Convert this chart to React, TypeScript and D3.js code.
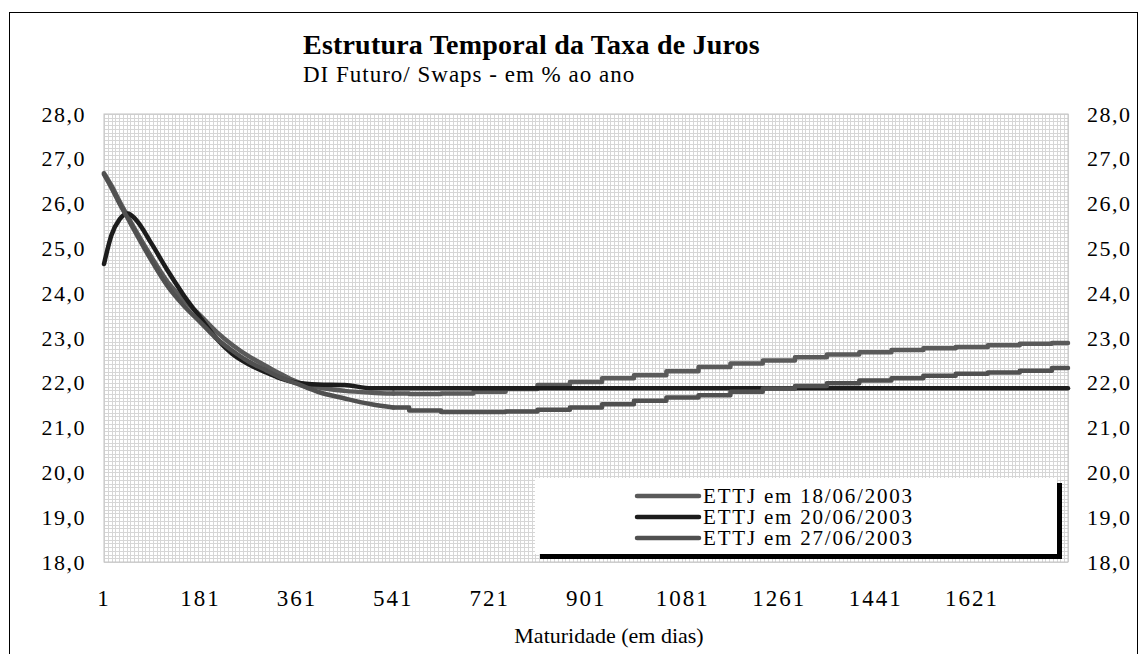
import React from "react";
import * as d3 from "d3";

const maturities = [
  1, 15, 30, 45, 60, 90, 120, 150, 181, 210, 240, 270, 300, 330, 361, 400, 450,
  500, 541, 600, 660, 721, 780, 840, 901, 960, 1020, 1081, 1140, 1200, 1261,
  1320, 1380, 1441, 1500, 1560, 1621, 1680, 1740, 1800,
];

const ettj1806 = [
  26.68, 26.4, 26.05, 25.72, 25.4, 24.8, 24.25, 23.85, 23.5, 23.15, 22.85,
  22.6, 22.4, 22.2, 22.02, 21.9, 21.82, 21.78, 21.76, 21.75, 21.76, 21.8,
  21.86, 21.95, 22.02, 22.1, 22.17, 22.26, 22.35, 22.43, 22.5, 22.57, 22.63,
  22.68, 22.73, 22.77, 22.8, 22.84, 22.87, 22.89,
];

const ettj2006 = [
  24.65, 25.3, 25.65, 25.78, 25.65, 25.1, 24.5, 23.95, 23.45, 23.0, 22.65,
  22.42, 22.25, 22.1, 22.0, 21.96, 21.95, 21.88, 21.88, 21.88, 21.88, 21.88,
  21.88, 21.88, 21.88, 21.88, 21.88, 21.88, 21.88, 21.88, 21.88, 21.88, 21.88,
  21.88, 21.88, 21.88, 21.88, 21.88, 21.88, 21.88,
];

const ettj2706 = [
  26.65, 26.35, 26.0, 25.68, 25.35, 24.72, 24.15, 23.72, 23.35, 23.0, 22.72,
  22.48, 22.3, 22.12, 21.98, 21.8, 21.65, 21.52, 21.45, 21.38, 21.35, 21.35,
  21.36, 21.4, 21.45, 21.52, 21.6, 21.67, 21.72, 21.8, 21.87, 21.93, 21.99,
  22.05, 22.1, 22.16, 22.2, 22.23, 22.27, 22.33,
];

const seriesNames = ["ETTJ em 18/06/2003", "ETTJ em 20/06/2003", "ETTJ em 27/06/2003"];
const xTickLabels = [1, 181, 361, 541, 721, 901, 1081, 1261, 1441, 1621];
const yTickLabels = [18, 19, 20, 21, 22, 23, 24, 25, 26, 27, 28];

const W = 1144;
const H = 654;
const plot = { left: 104, right: 1068, top: 114, bottom: 562 };
const font = "'Liberation Serif', 'Times New Roman', 'DejaVu Serif', serif";
const colors = ["#5a5a5a", "#1c1c1c", "#505050"];
const splitDay = 541; // past this the rounded daily rates show as small stairs

const ptBR = d3.formatLocale({ decimal: ",", thousands: ".", grouping: [3], currency: ["R$", ""] });
const fmt = ptBR.format(".1f");

export default function App() {
  const x = d3.scaleLinear().domain([1, 1800]).range([plot.left, plot.right]);
  const y = d3.scaleLinear().domain([18, 28]).range([plot.bottom, plot.top]);

  const smooth = d3
    .line<[number, number]>()
    .x((d) => x(d[0]))
    .y((d) => y(d[1]))
    .curve(d3.curveMonotoneX);
  const stairs = d3
    .line<[number, number]>()
    .x((d) => x(d[0]))
    .y((d) => y(d[1]))
    .curve(d3.curveStep);

  const series = [ettj1806, ettj2006, ettj2706].map((vals) =>
    maturities.map((m, i) => [m, vals[i]] as [number, number])
  );

  // fine grid like Excel's minor gridlines
  const vGrid = d3.range(1, 1801, 7).map((d) => Math.round(x(d)) + 0.5);
  const hGrid = d3.range(0, 121).map((i) => Math.round(y(18 + i / 12)) + 0.5);

  const legend = { x: 535, y: 478, w: 522, h: 76 };
  const txt = { fontFamily: font };

  return (
    <svg
      width={W}
      height={H}
      style={{ position: "absolute", left: 0, top: 0, background: "#fff", fontFamily: font }}
    >
      <rect x={9.5} y={12.5} width={1128} height={700} fill="#fff" stroke="#000" />

      <text x={303} y={54} style={txt} fontSize={28} fontWeight="bold" letterSpacing={0.2}>
        Estrutura Temporal da Taxa de Juros
      </text>
      <text x={303} y={82} style={txt} fontSize={23} letterSpacing={1}>
        DI Futuro/ Swaps - em % ao ano
      </text>

      <g stroke="#d6d6d6" strokeWidth={1}>
        {vGrid.map((gx, i) => (
          <line key={"v" + i} x1={gx} x2={gx} y1={plot.top} y2={plot.bottom} />
        ))}
        {hGrid.map((gy, i) => (
          <line key={"h" + i} x1={plot.left} x2={plot.right} y1={gy} y2={gy} />
        ))}
      </g>
      <rect
        x={plot.left}
        y={plot.top}
        width={plot.right - plot.left}
        height={plot.bottom - plot.top}
        fill="none"
        stroke="#c4c4c4"
      />

      {yTickLabels.map((v) => (
        <g key={v} fontSize={22} letterSpacing={1.5}>
          <text x={86} y={y(v)} style={txt} textAnchor="end" dominantBaseline="central">
            {fmt(v)}
          </text>
          <text x={1087} y={y(v)} style={txt} dominantBaseline="central">
            {fmt(v)}
          </text>
        </g>
      ))}

      {xTickLabels.map((d) => (
        <text
          key={d}
          x={x(d)}
          y={598}
          style={txt}
          fontSize={23}
          letterSpacing={2}
          textAnchor="middle"
          dominantBaseline="central"
        >
          {d}
        </text>
      ))}
      <text x={609} y={635} style={txt} fontSize={22} textAnchor="middle" dominantBaseline="central">
        Maturidade (em dias)
      </text>

      {series.map((s, i) => {
        const head = s.filter((p) => p[0] <= splitDay);
        const tail = s.filter((p) => p[0] >= splitDay);
        return (
          <g
            key={i}
            fill="none"
            stroke={colors[i]}
            strokeWidth={4.5}
            strokeLinecap="round"
            strokeLinejoin="round"
          >
            <path d={smooth(head) ?? ""} />
            <path d={stairs(tail) ?? ""} />
          </g>
        );
      })}

      <g>
        <rect x={legend.x + 5} y={legend.y + 5} width={legend.w} height={legend.h} fill="#000" />
        <rect x={legend.x} y={legend.y} width={legend.w} height={legend.h} fill="#fff" />
        {seriesNames.map((name, i) => {
          const ry = 496 + i * 21;
          return (
            <g key={name}>
              <line
                x1={637}
                x2={699}
                y1={ry}
                y2={ry}
                stroke={colors[i]}
                strokeWidth={4.5}
                strokeLinecap="round"
              />
              <text
                x={703}
                y={ry}
                style={txt}
                fontSize={21}
                letterSpacing={1.8}
                dominantBaseline="central"
              >
                {name}
              </text>
            </g>
          );
        })}
      </g>
    </svg>
  );
}
